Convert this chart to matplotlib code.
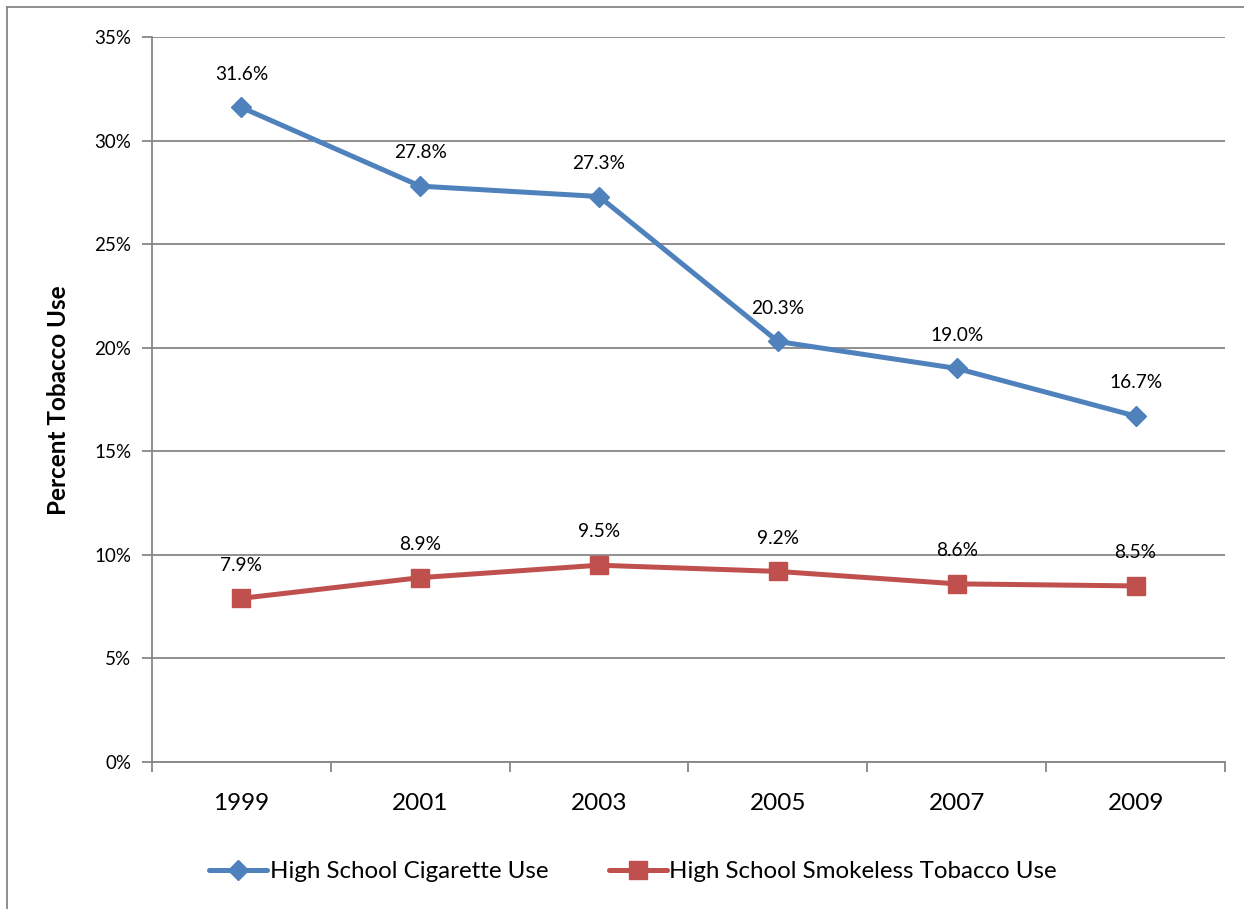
import matplotlib.pyplot as plt
from matplotlib.lines import Line2D
from matplotlib.ticker import FuncFormatter, FixedLocator, NullFormatter

years = ["1999", "2001", "2003", "2005", "2007", "2009"]
cigarette = [31.6, 27.8, 27.3, 20.3, 19.0, 16.7]
smokeless = [7.9, 8.9, 9.5, 9.2, 8.6, 8.5]

blue = "#4F81BD"
red = "#C0504D"
grid_gray = "#868686"

plt.rcParams["font.family"] = ["Lato", "DejaVu Sans"]

W, H = 1244, 909
fig = plt.figure(figsize=(W / 100, H / 100), dpi=100)
ax = fig.add_axes([152 / W, 1 - 762 / H, (1225 - 152) / W, (762 - 37) / H])

x = list(range(len(years)))
ax.plot(x, cigarette, color=blue, lw=3.6, marker="D", ms=10, mec=blue, mfc=blue,
        solid_capstyle="round", zorder=3)
ax.plot(x, smokeless, color=red, lw=3.6, marker="s", ms=13, mec=red, mfc=red,
        solid_capstyle="round", zorder=3)

for series in (cigarette, smokeless):
    for xi, v in zip(x, series):
        ax.annotate(f"{v:.1f}%", (xi, v), xytext=(0, 24), textcoords="offset points",
                    ha="center", va="center", fontsize=13.8)

ax.set_xlim(-0.5, len(years) - 0.5)
ax.set_ylim(0, 35)
ax.set_yticks(range(0, 36, 5))
ax.yaxis.set_major_formatter(FuncFormatter(lambda v, p: f"{int(v)}%"))
ax.yaxis.grid(True, color=grid_gray, lw=1.3)
ax.set_axisbelow(True)

# category labels centred, tick marks on the category boundaries
ax.set_xticks(x)
ax.set_xticklabels(years, fontsize=17.5)
ax.tick_params(axis="x", length=0, pad=22)
ax.xaxis.set_minor_locator(FixedLocator([i - 0.5 for i in range(len(years) + 1)]))
ax.xaxis.set_minor_formatter(NullFormatter())
ax.tick_params(axis="x", which="minor", length=7, width=1.3, color=grid_gray)
ax.tick_params(axis="y", length=7, width=1.3, color=grid_gray, labelsize=13.5, pad=8)

for side in ["top", "right"]:
    ax.spines[side].set_visible(False)
for side in ["left", "bottom"]:
    ax.spines[side].set_color(grid_gray)
    ax.spines[side].set_linewidth(1.3)

fig.text(58 / W, 1 - 400 / H, "Percent Tobacco Use", rotation=90, ha="center", va="center",
         fontsize=17.5, fontweight="bold")

handles = [
    Line2D([], [], color=blue, lw=3.6, marker="D", ms=10, solid_capstyle="round"),
    Line2D([], [], color=red, lw=3.6, marker="s", ms=13, solid_capstyle="round"),
]
fig.legend(handles, ["High School Cigarette Use", "High School Smokeless Tobacco Use"],
           loc="center", bbox_to_anchor=(633 / W, 1 - 872 / H), ncol=2, frameon=False,
           fontsize=17.4, handlelength=2.4, handletextpad=0.1, columnspacing=2.5)

# outer chart border (top and left edges only show)
fig.add_artist(Line2D([7 / W, 1], [1 - 7 / H, 1 - 7 / H], color=grid_gray, lw=1.3,
                      transform=fig.transFigure))
fig.add_artist(Line2D([7 / W, 7 / W], [0, 1 - 7 / H], color=grid_gray, lw=1.3,
                      transform=fig.transFigure))

fig.savefig("out.png", dpi=100)
